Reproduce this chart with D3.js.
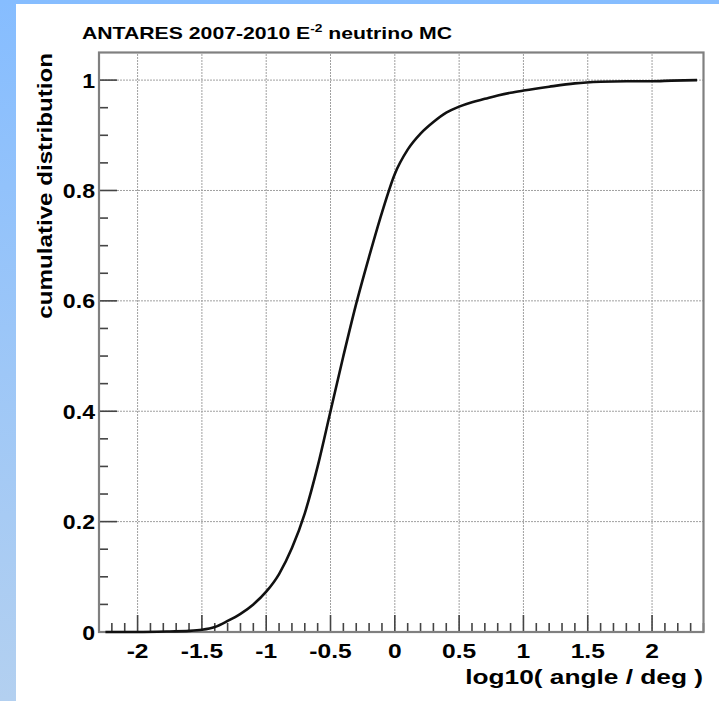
<!DOCTYPE html>
<html>
<head>
<meta charset="utf-8">
<script src="https://cdn.jsdelivr.net/npm/d3@7"></script>
<style>
  html, body { margin: 0; padding: 0; background: #fff; }
  text { font-family: "Liberation Sans", Arial, sans-serif; font-weight: bold; fill: #000; }
</style>
</head>
<body>
<div id="chart"></div>
<script>
// cumulative distribution of log10(angle/deg)
const logAngle = [-2.25, -2.0, -1.75, -1.6, -1.5, -1.4, -1.3, -1.2, -1.1, -1.0, -0.9, -0.8, -0.7, -0.6, -0.5, -0.4, -0.3, -0.2, -0.1, 0.0, 0.1, 0.2, 0.3, 0.4, 0.5, 0.6, 0.7, 0.8, 0.9, 1.0, 1.2, 1.4, 1.6, 1.8, 2.0, 2.15, 2.35];
const cumFrac  = [0.0, 0.0, 0.001, 0.002, 0.004, 0.009, 0.02, 0.033, 0.05, 0.073, 0.105, 0.152, 0.215, 0.3, 0.4, 0.5, 0.595, 0.68, 0.76, 0.83, 0.874, 0.903, 0.924, 0.941, 0.952, 0.96, 0.966, 0.972, 0.977, 0.981, 0.988, 0.994, 0.997, 0.998, 0.998, 0.999, 1.0];

const xMajor = [-2, -1.5, -1, -0.5, 0, 0.5, 1, 1.5, 2];
const xTickLabels = ["-2", "-1.5", "-1", "-0.5", "0", "0.5", "1", "1.5", "2"];
const yMajor = [0, 0.2, 0.4, 0.6, 0.8, 1];
const yTickLabels = ["0", "0.2", "0.4", "0.6", "0.8", "1"];

const W = 719, H = 701;
const margin = {top: 52.5, right: 15.5, bottom: 69, left: 99};

const svg = d3.select("#chart").append("svg")
    .attr("width", W)
    .attr("height", H);

// widen text a bit, ROOT's helvetica renders broader than Arial
function stretch(sel, k) {
    sel.each(function() {
        const len = this.getComputedTextLength();
        d3.select(this).attr("textLength", len * k).attr("lengthAdjust", "spacingAndGlyphs");
    });
}

// blue slide background on the left / top edge
const grad = svg.append("defs").append("linearGradient")
    .attr("id", "bg").attr("x1", 0).attr("y1", 0).attr("x2", 0).attr("y2", 1);
grad.append("stop").attr("offset", "0%").attr("stop-color", "#86bdff");
grad.append("stop").attr("offset", "100%").attr("stop-color", "#b3d0f0");
svg.append("rect").attr("width", W).attr("height", H).attr("fill", "url(#bg)");
svg.append("rect").attr("x", 16).attr("y", 4).attr("width", W - 16).attr("height", H - 4).attr("fill", "#fff");

const x = d3.scaleLinear().domain([-2.3, 2.4]).range([margin.left, W - margin.right]);
const y = d3.scaleLinear().domain([0, 1.05]).range([H - margin.bottom, margin.top]);

const g = svg.append("g");

// dotted grid
g.selectAll(".vgrid").data(xMajor).enter().append("line")
    .attr("x1", d => x(d)).attr("x2", d => x(d))
    .attr("y1", y.range()[0]).attr("y2", y.range()[1])
    .attr("stroke", "#a0a0a0").attr("stroke-width", 1).attr("stroke-dasharray", "2,1");
g.selectAll(".hgrid").data(yMajor).enter().append("line")
    .attr("x1", x.range()[0]).attr("x2", x.range()[1])
    .attr("y1", d => y(d)).attr("y2", d => y(d))
    .attr("stroke", "#a0a0a0").attr("stroke-width", 1).attr("stroke-dasharray", "2,1");

// ticks, drawn inside the frame like ROOT does
const xMinor = d3.range(-23, 25).map(i => i / 10).filter(v => Math.abs(v * 2 - Math.round(v * 2)) > 1e-6);
const yMinor = d3.range(1, 21).map(i => i * 0.05).filter(v => Math.abs(v * 5 - Math.round(v * 5)) > 1e-6);

const tickCol = "#444";
g.selectAll(".xmin").data(xMinor).enter().append("line")
    .attr("x1", d => x(d)).attr("x2", d => x(d))
    .attr("y1", y(0)).attr("y2", y(0) - 9)
    .attr("stroke", tickCol).attr("stroke-width", 1.6);
g.selectAll(".xmaj").data(xMajor).enter().append("line")
    .attr("x1", d => x(d)).attr("x2", d => x(d))
    .attr("y1", y(0)).attr("y2", y(0) - 17)
    .attr("stroke", tickCol).attr("stroke-width", 1.6);
g.selectAll(".ymin").data(yMinor).enter().append("line")
    .attr("x1", x.range()[0]).attr("x2", x.range()[0] + 9)
    .attr("y1", d => y(d)).attr("y2", d => y(d))
    .attr("stroke", tickCol).attr("stroke-width", 1.6);
g.selectAll(".ymaj").data(yMajor).enter().append("line")
    .attr("x1", x.range()[0]).attr("x2", x.range()[0] + 18)
    .attr("y1", d => y(d)).attr("y2", d => y(d))
    .attr("stroke", tickCol).attr("stroke-width", 1.6);

// frame
g.append("rect")
    .attr("x", x.range()[0]).attr("y", y.range()[1])
    .attr("width", x.range()[1] - x.range()[0])
    .attr("height", y.range()[0] - y.range()[1])
    .attr("fill", "none").attr("stroke", "#808080").attr("stroke-width", 2.2);

// curve
const line = d3.line()
    .x((d, i) => x(logAngle[i]))
    .y(d => y(d))
    .curve(d3.curveMonotoneX);
g.append("path")
    .datum(cumFrac)
    .attr("d", line)
    .attr("fill", "none")
    .attr("stroke", "#111")
    .attr("stroke-width", 2.6);

// tick labels
const xl = g.selectAll(".xlab").data(xMajor).enter().append("text")
    .attr("x", d => x(d)).attr("y", 658)
    .attr("text-anchor", "middle")
    .style("font-size", "21px")
    .text((d, i) => xTickLabels[i]);
stretch(xl, 1.17);
const yl = g.selectAll(".ylab").data(yMajor).enter().append("text")
    .attr("x", 95).attr("y", d => y(d) + 7.5)
    .attr("text-anchor", "end")
    .style("font-size", "21px")
    .text((d, i) => yTickLabels[i]);
stretch(yl, 1.1);

// axis titles
const xt = svg.append("text")
    .attr("x", 703).attr("y", 684)
    .attr("text-anchor", "end")
    .style("font-size", "21px")
    .text("log10( angle / deg )");
stretch(xt, 1.25);
const yt = svg.append("text")
    .attr("transform", "translate(52,53) rotate(-90)")
    .attr("text-anchor", "end")
    .style("font-size", "21px")
    .text("cumulative distribution");
stretch(yt, 1.15);

// title
const title = svg.append("text")
    .attr("x", 82).attr("y", 39)
    .style("font-size", "17px");
title.append("tspan").text("ANTARES 2007-2010 E");
title.append("tspan").attr("dy", -7).style("font-size", "11px").text("-2");
title.append("tspan").attr("dy", 7).text(" neutrino MC");
title.attr("textLength", 370).attr("lengthAdjust", "spacingAndGlyphs");
</script>
</body>
</html>
